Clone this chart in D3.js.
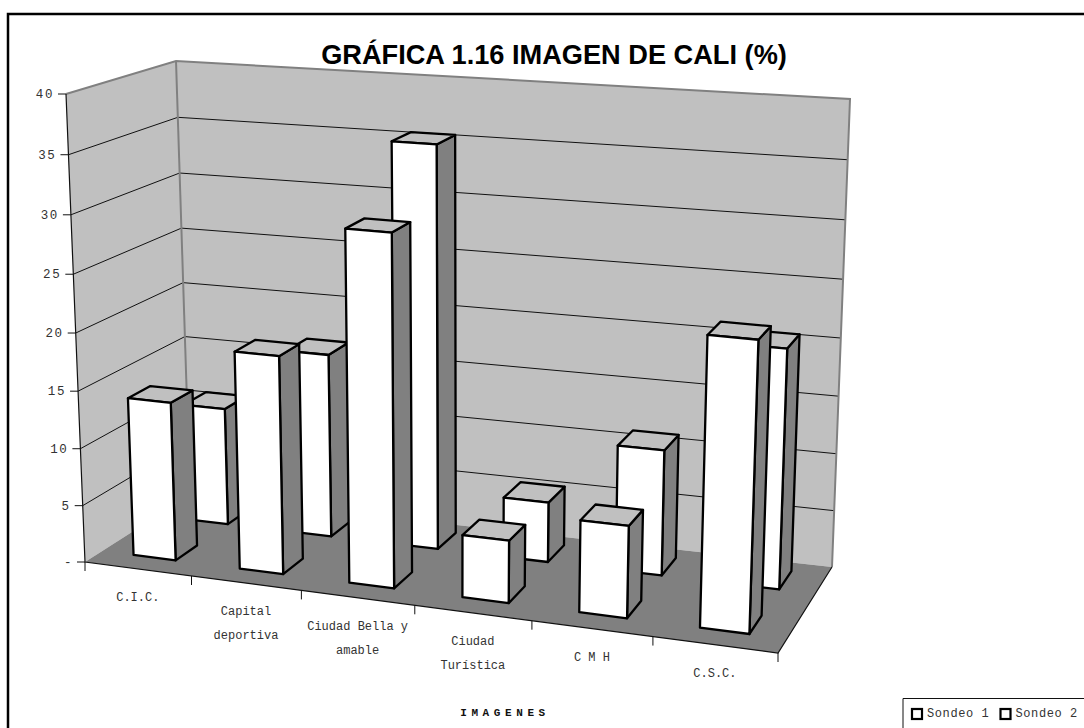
<!DOCTYPE html>
<html><head><meta charset="utf-8">
<style>html,body{margin:0;padding:0;background:#fff}svg{display:block}</style>
<script src="https://cdn.jsdelivr.net/npm/d3@7/dist/d3.min.js"></script>
</head><body><svg id="c" width="1084" height="728"></svg>
<script>
const categories = ["C.I.C.", "Capital deportiva", "Ciudad Bella y amable", "Ciudad Turística", "C M H", "C.S.C."];
const categoryLines = [["C.I.C."], ["Capital", "deportiva"], ["Ciudad Bella y", "amable"], ["Ciudad", "Turística"], ["C M H"], ["C.S.C."]];
const sondeo1 = [13.9, 18.9, 30.1, 5.35, 7.8, 24.1];
const sondeo2 = [10.6, 16.4, 35.4, 5.3, 10.95, 20.6];
const seriesNames = ["Sondeo 1", "Sondeo 2"];
const yTicks = [0, 5, 10, 15, 20, 25, 30, 35, 40];
const titleText = "GRÁFICA 1.16 IMAGEN DE CALI (%)";
const axisTitle = "IMAGENES";

const WALL = "#c0c0c0", FLOOR = "#808080", EDGE = "#808080", INK = "#000";
const svg = d3.select("#c");

// projected corners of the chart box: [category 0..1][depth 0..1][height 0..1]
const box = {
  flb: [85, 562], flt: [66, 94], blb: [190, 495], blt: [176, 61],
  frb: [778, 653], frt: [795, 148], brb: [832, 567], brt: [850, 99]
};
const warp = (t, k) => t * (1 + k) / (1 + k * t);
const lerp = (a, b, t) => [a[0] + (b[0] - a[0]) * t, a[1] + (b[1] - a[1]) * t];
function P(u, v, h) {
  const U = warp(u, -0.092), H = warp(h, -0.042);
  const fb = lerp(box.flb, box.frb, U), ft = lerp(box.flt, box.frt, U);
  const bb = lerp(box.blb, box.brb, U), bt = lerp(box.blt, box.brt, U);
  return lerp(lerp(fb, ft, H), lerp(bb, bt, H), v);
}
const poly = pts => d3.line()(pts) + "Z";

const yScale = d3.scaleLinear().domain([0, 40]).range([0, 1]);
const xBand = d3.scaleBand().domain(categories).range([0, 1]).paddingInner(0.6).paddingOuter(0.3);
const xStep = d3.scaleBand().domain(categories).range([0, 1]);
const depthBand = d3.scaleOrdinal().domain(seriesNames).range([0.165, 0.69]);
const depthSize = 0.215;

// frame
svg.append("path").attr("d", "M8,728V14H1084").attr("fill", "none").attr("stroke", INK).attr("stroke-width", 2.5);

// walls and floor
svg.append("path").attr("d", poly([P(0,0,0), P(0,0,1), P(0,1,1), P(0,1,0)])).attr("fill", WALL);
svg.append("path").attr("d", poly([P(0,1,0), P(0,1,1), P(1,1,1), P(1,1,0)])).attr("fill", WALL);
svg.append("path").attr("d", poly([P(0,0,0), P(0,1,0), P(1,1,0), P(1,0,0)])).attr("fill", FLOOR);

// gridlines
yTicks.slice(1, -1).forEach(t => {
  const h = yScale(t);
  svg.append("path").attr("d", d3.line()([P(0,0,h), P(0,1,h), P(1,1,h)]))
    .attr("fill", "none").attr("stroke", "#111").attr("stroke-width", 1);
});
// wall edges
svg.append("path").attr("d", d3.line()([P(0,0,1), P(0,1,1), P(1,1,1), P(1,1,0)]))
  .attr("fill", "none").attr("stroke", EDGE).attr("stroke-width", 2);
svg.append("path").attr("d", d3.line()([P(0,1,1), P(0,1,0)]))
  .attr("fill", "none").attr("stroke", EDGE).attr("stroke-width", 2);
// axes
svg.append("path").attr("d", d3.line()([P(0,0,1), P(0,0,0), P(1,0,0), P(1,1,0)]))
  .attr("fill", "none").attr("stroke", "#111").attr("stroke-width", 1.2);

const monoFont = "'Liberation Mono', monospace";
yTicks.forEach(t => {
  const p = P(0, 0, yScale(t));
  svg.append("line").attr("x1", p[0] - 8).attr("y1", p[1]).attr("x2", p[0]).attr("y2", p[1])
    .attr("stroke", "#111").attr("stroke-width", 1);
  svg.append("text").attr("x", p[0] - 12).attr("y", p[1] + 4).attr("text-anchor", "end")
    .attr("font-family", monoFont).attr("font-size", 12.5).attr("letter-spacing", 1.6).attr("fill", "#333")
    .text(t === 0 ? "-" : d3.format("d")(t));
});
d3.range(categories.length + 1).forEach(i => {
  const p = P(i / categories.length, 0, 0);
  svg.append("line").attr("x1", p[0]).attr("y1", p[1]).attr("x2", p[0]).attr("y2", p[1] + 9)
    .attr("stroke", "#111").attr("stroke-width", 1);
});
categories.forEach((c, i) => {
  const lines = categoryLines[i];
  const p = P(xStep(c) + xStep.bandwidth() / 2, 0, 0);
  lines.forEach((l, j) => {
    svg.append("text").attr("x", p[0]).attr("y", p[1] + 32 + j * 24)
      .attr("text-anchor", "middle").attr("font-family", monoFont).attr("font-size", 12).attr("fill", "#333")
      .text(l);
  });
});

// bars: back series first, left to right
function drawBar(cat, series, value) {
  const u0 = xBand(cat), u1 = u0 + xBand.bandwidth();
  const v0 = depthBand(series), v1 = v0 + depthSize;
  const h = yScale(value);
  const g = svg.append("g").attr("stroke", INK).attr("stroke-width", 2.3).attr("stroke-linejoin", "round");
  g.append("path").attr("d", poly([P(u1,v0,0), P(u1,v1,0), P(u1,v1,h), P(u1,v0,h)])).attr("fill", FLOOR);
  g.append("path").attr("d", poly([P(u0,v0,h), P(u1,v0,h), P(u1,v1,h), P(u0,v1,h)])).attr("fill", WALL);
  g.append("path").attr("d", poly([P(u0,v0,0), P(u1,v0,0), P(u1,v0,h), P(u0,v0,h)])).attr("fill", "#fff");
}
categories.forEach((c, i) => drawBar(c, seriesNames[1], sondeo2[i]));
categories.forEach((c, i) => drawBar(c, seriesNames[0], sondeo1[i]));

// title
svg.append("text").attr("x", 554).attr("y", 64).attr("text-anchor", "middle")
  .attr("font-family", "'Liberation Sans', Arial, sans-serif").attr("font-weight", "bold").attr("font-size", 27.2)
  .attr("fill", "#000").text(titleText);
svg.append("text").attr("x", 505).attr("y", 716).attr("text-anchor", "middle")
  .attr("font-family", monoFont).attr("font-weight", "bold").attr("font-size", 11).attr("letter-spacing", 4.6)
  .attr("fill", "#111").text(axisTitle);

// legend
svg.append("path").attr("d", "M903,728V698.5H1084").attr("fill", "none").attr("stroke", "#111").attr("stroke-width", 1);
seriesNames.forEach((s, i) => {
  const x = 912 + i * 88.5;
  svg.append("rect").attr("x", x).attr("y", 709).attr("width", 10).attr("height", 10)
    .attr("fill", "#fff").attr("stroke", INK).attr("stroke-width", 2.2);
  svg.append("text").attr("x", x + 15).attr("y", 717).attr("font-family", monoFont)
    .attr("font-size", 12).attr("letter-spacing", 0.6).attr("fill", "#333").text(s);
});
</script></body></html>
